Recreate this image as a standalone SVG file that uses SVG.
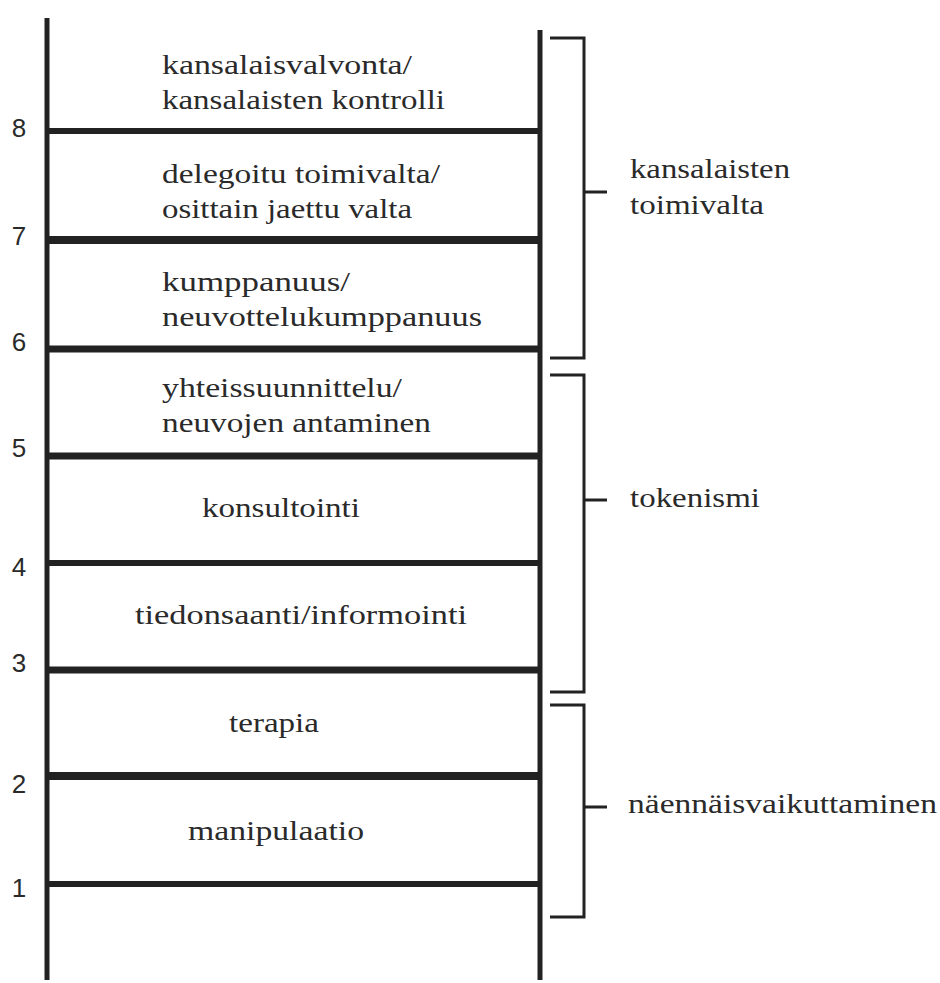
<svg xmlns="http://www.w3.org/2000/svg" width="940" height="983" viewBox="0 0 940 983">
<style>
.rail{stroke:#222;stroke-width:5;fill:none}
.rung{stroke:#222;fill:none}
.br{stroke:#222;stroke-width:3;fill:none}
.lbl{font-family:"Liberation Serif",serif;font-size:28px;fill:#2a2a2a}
.num{font-family:"Liberation Sans",sans-serif;font-size:26px;fill:#2a2a2a;text-anchor:middle}
</style>
<rect width="940" height="983" fill="#fff"/>
<g id="ladder">
<line class="rail" x1="47" y1="18" x2="47" y2="980"/>
<line class="rail" x1="540" y1="30" x2="540" y2="980"/>
</g>
<g id="connectors">
<line class="rung" x1="47" y1="131" x2="540" y2="131" stroke-width="6"/>
<line class="rung" x1="47" y1="240" x2="540" y2="240" stroke-width="8"/>
<line class="rung" x1="47" y1="349" x2="540" y2="349" stroke-width="7"/>
<line class="rung" x1="47" y1="456" x2="540" y2="456" stroke-width="7"/>
<line class="rung" x1="47" y1="563" x2="540" y2="563" stroke-width="6"/>
<line class="rung" x1="47" y1="670" x2="540" y2="670" stroke-width="7"/>
<line class="rung" x1="47" y1="776" x2="540" y2="776" stroke-width="8"/>
<line class="rung" x1="47" y1="884" x2="540" y2="884" stroke-width="6"/>
</g>
<g id="numbers">
<text class="num" x="19" y="137">8</text>
<text class="num" x="19" y="245">7</text>
<text class="num" x="19" y="351">6</text>
<text class="num" x="19" y="457">5</text>
<text class="num" x="19" y="576">4</text>
<text class="num" x="19" y="672">3</text>
<text class="num" x="19" y="793">2</text>
<text class="num" x="19" y="897">1</text>
</g>
<g id="step8">
<text class="lbl" x="162" y="74" textLength="250" lengthAdjust="spacingAndGlyphs">kansalaisvalvonta/</text>
<text class="lbl" x="162" y="109" textLength="283" lengthAdjust="spacingAndGlyphs">kansalaisten kontrolli</text>
</g>
<g id="step7">
<text class="lbl" x="162" y="183" textLength="278" lengthAdjust="spacingAndGlyphs">delegoitu toimivalta/</text>
<text class="lbl" x="162" y="218" textLength="250" lengthAdjust="spacingAndGlyphs">osittain jaettu valta</text>
</g>
<g id="step6">
<text class="lbl" x="162" y="291" textLength="188" lengthAdjust="spacingAndGlyphs">kumppanuus/</text>
<text class="lbl" x="162" y="326" textLength="320" lengthAdjust="spacingAndGlyphs">neuvottelukumppanuus</text>
</g>
<g id="step5">
<text class="lbl" x="162" y="397" textLength="240" lengthAdjust="spacingAndGlyphs">yhteissuunnittelu/</text>
<text class="lbl" x="162" y="432" textLength="269" lengthAdjust="spacingAndGlyphs">neuvojen antaminen</text>
</g>
<g id="step4">
<text class="lbl" x="202" y="517" textLength="158" lengthAdjust="spacingAndGlyphs">konsultointi</text>
</g>
<g id="step3">
<text class="lbl" x="135" y="624" textLength="332" lengthAdjust="spacingAndGlyphs">tiedonsaanti/informointi</text>
</g>
<g id="step2">
<text class="lbl" x="229" y="732" textLength="90" lengthAdjust="spacingAndGlyphs">terapia</text>
</g>
<g id="step1">
<text class="lbl" x="188" y="840" textLength="176" lengthAdjust="spacingAndGlyphs">manipulaatio</text>
</g>
<g id="group-kansalaisten">
<path class="br" d="M550,38 H584 V358 H550 M584,192 H607"/>
<text class="lbl" x="630" y="178" textLength="160" lengthAdjust="spacingAndGlyphs">kansalaisten</text>
<text class="lbl" x="630" y="214" textLength="134" lengthAdjust="spacingAndGlyphs">toimivalta</text>
</g>
<g id="group-tokenismi">
<path class="br" d="M550,375 H584 V692 H550 M584,500 H607"/>
<text class="lbl" x="630" y="507" textLength="130" lengthAdjust="spacingAndGlyphs">tokenismi</text>
</g>
<g id="group-naennais">
<path class="br" d="M550,705 H584 V917 H550 M584,807 H607"/>
<text class="lbl" x="628" y="813" textLength="309" lengthAdjust="spacingAndGlyphs">näennäisvaikuttaminen</text>
</g>
</svg>
